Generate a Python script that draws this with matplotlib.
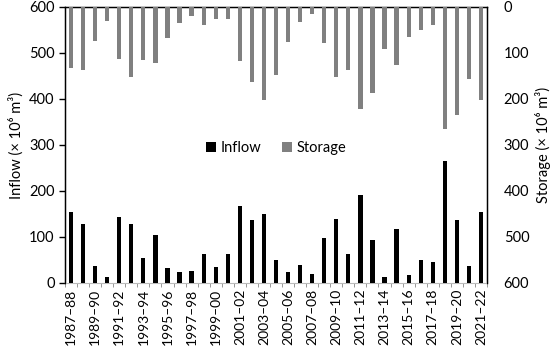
import matplotlib
matplotlib.use("Agg")
import matplotlib.pyplot as plt
import numpy as np

plt.rcParams['font.family'] = ['Lato', 'DejaVu Sans']

years = [f"{y}\u2013{str(y+1)[-2:]}" for y in range(1987, 2022)]
inflow = [154, 129, 36, 13, 143, 128, 54, 104, 33, 25, 26, 64, 35, 62, 168, 136, 151, 51,
          25, 40, 20, 97, 140, 64, 192, 94, 14, 117, 18, 50, 46, 265, 136, 37, 154]
storage = [133, 136, 74, 30, 112, 152, 116, 122, 67, 35, 20, 39, 26, 26, 117, 163, 203, 148,
           75, 33, 16, 79, 153, 136, 221, 186, 92, 125, 66, 50, 40, 265, 234, 157, 203]

fig = plt.figure(figsize=(5.5, 3.49), dpi=100)
ax = fig.add_axes([65/550, 1-283/349, 422/550, 276/349])
x = np.arange(len(years))
w = 0.35
b1 = ax.bar(x, inflow, width=w, color='black', label='Inflow', zorder=3)
ax.set_ylim(0, 600)
ax.set_xlim(-0.5, len(years)-0.5)
ax.set_yticks(range(0, 601, 100))
ax.set_ylabel('Inflow (\u00d7 10\u2076 m\u00b3)', fontsize=10.5, labelpad=4)
ax.set_xticks(x[::2])
ax.set_xticklabels(years[::2], rotation=90, fontsize=10)
ax.set_xticks(np.arange(-0.5, len(years)), minor=True)
ax.tick_params(axis='x', which='major', length=0, pad=4)
ax.tick_params(axis='x', which='minor', length=3, color='#888888')
ax.tick_params(axis='y', labelsize=10.5, length=4, width=1)
for s in ['left', 'right', 'top']:
    ax.spines[s].set_color('black')
    ax.spines[s].set_linewidth(1.0)
ax.spines['bottom'].set_color('#bbbbbb')

ax2 = ax.twinx()
b2 = ax2.bar(x, storage, width=w, color='#808080', label='Storage', zorder=3)
ax2.set_ylim(600, 0)
ax2.set_yticks(range(0, 601, 100))
ax2.set_ylabel('Storage (\u00d7 10\u2076 m\u00b3)', fontsize=10.5, labelpad=4)
ax2.tick_params(axis='y', labelsize=10.5, length=0, pad=12)
for s in ['left', 'right', 'top']:
    ax2.spines[s].set_color('black')
ax2.spines['bottom'].set_visible(False)

ax2.legend(handles=[b1, b2], loc='center', bbox_to_anchor=(0.5, 0.49), ncol=2, frameon=False,
           fontsize=10.5, handlelength=0.7, handleheight=0.7, handletextpad=0.3, columnspacing=1.4)

fig.savefig('out.png', dpi=100)
